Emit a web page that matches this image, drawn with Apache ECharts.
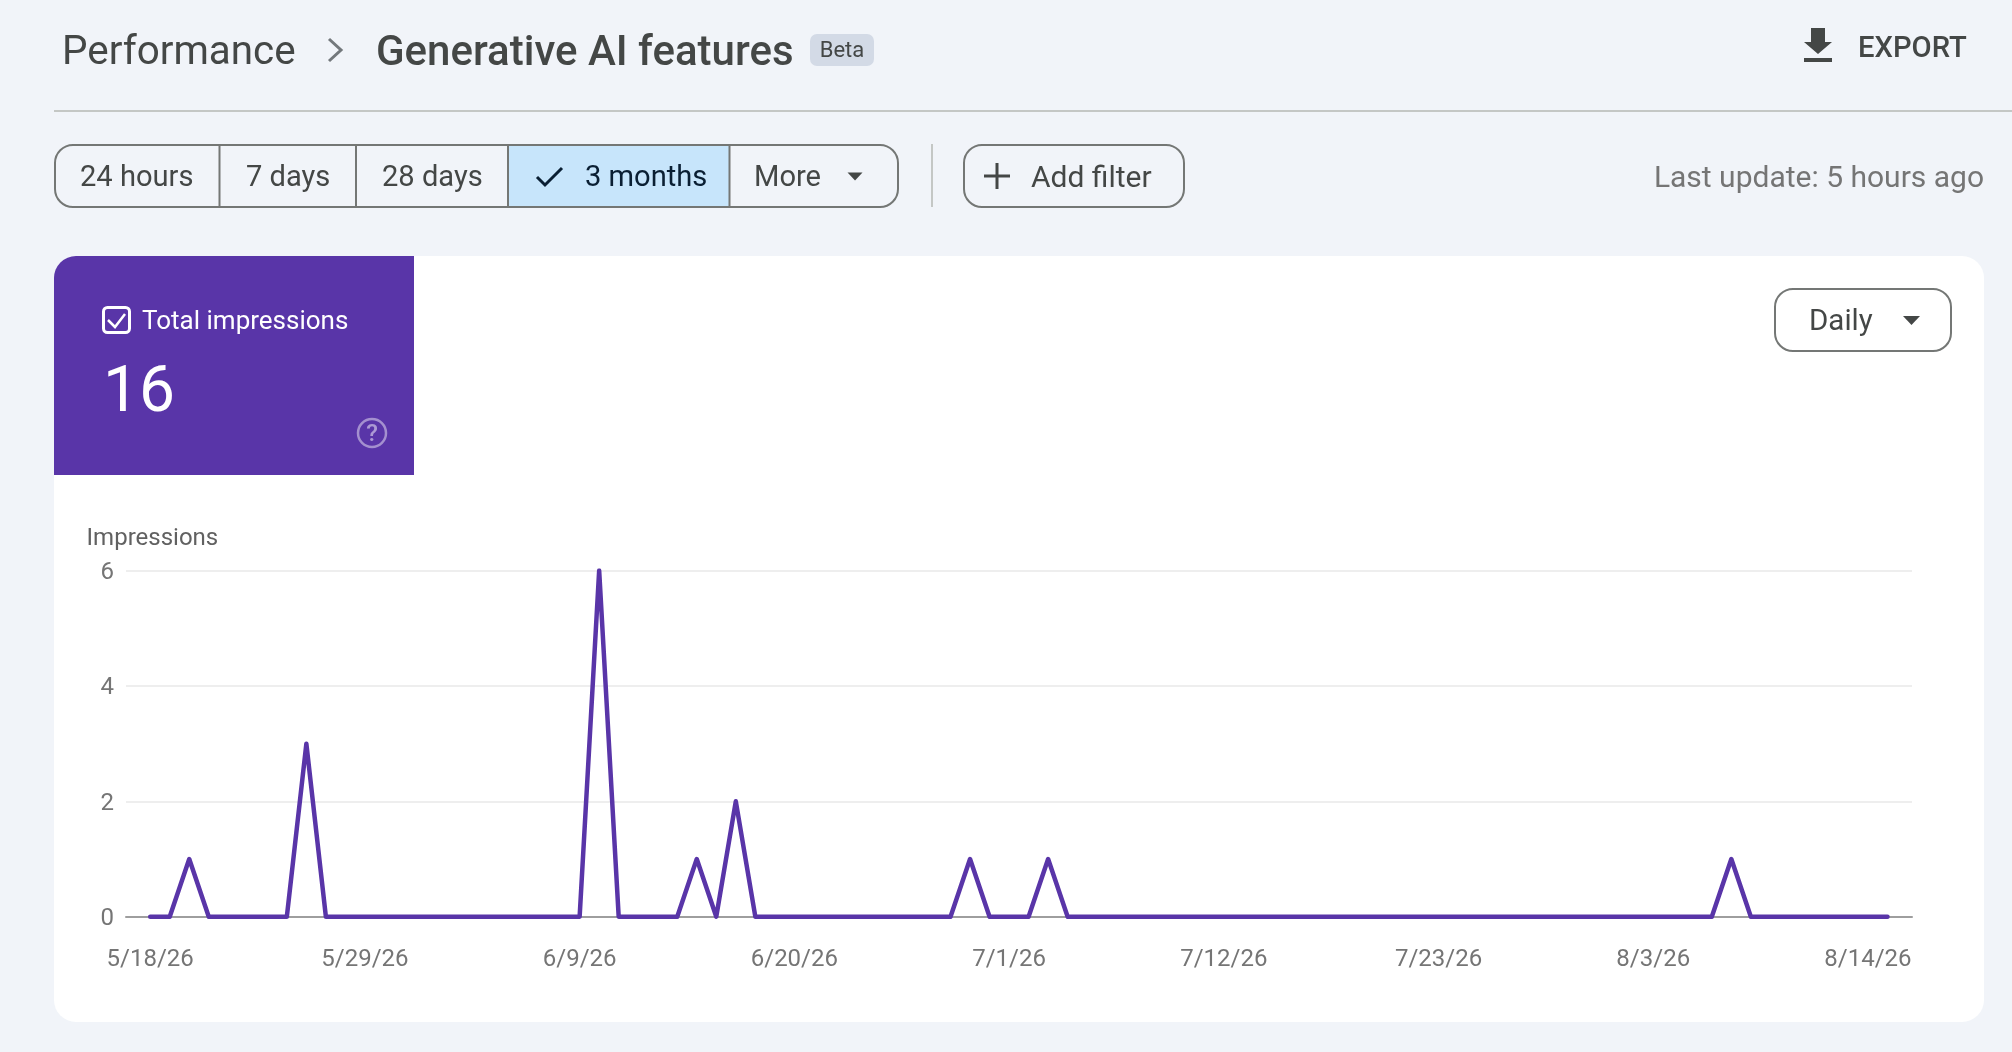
<!DOCTYPE html>
<html>
<head>
<meta charset="utf-8">
<title>Generative AI features</title>
<script src="https://cdn.jsdelivr.net/npm/echarts@6/dist/echarts.min.js"></script>
<style>
html, body { margin: 0; padding: 0; background: #f1f4f9; }
#chart { width: 2012px; height: 1052px; }
</style>
</head>
<body>
<div id="chart"></div>
<script>
// one value per day, 5/18/26 to 8/15/26
var impressions = [
  0, 0, 1, 0, 0, 0, 0, 0, 3, 0,
  0, 0, 0, 0, 0, 0, 0, 0, 0, 0,
  0, 0, 0, 6, 0, 0, 0, 0, 1, 0,
  2, 0, 0, 0, 0, 0, 0, 0, 0, 0,
  0, 0, 1, 0, 0, 0, 1, 0, 0, 0,
  0, 0, 0, 0, 0, 0, 0, 0, 0, 0,
  0, 0, 0, 0, 0, 0, 0, 0, 0, 0,
  0, 0, 0, 0, 0, 0, 0, 0, 0, 0,
  0, 1, 0, 0, 0, 0, 0, 0, 0, 0
];
var tickDays = [0, 11, 22, 33, 44, 55, 66, 77, 88];
var tickLabels = ['5/18/26', '5/29/26', '6/9/26', '6/20/26', '7/1/26', '7/12/26', '7/23/26', '8/3/26', '8/14/26'];
var rangeButtons = ['24 hours', '7 days', '28 days', '3 months', 'More'];

var FONT = 'Roboto';
var PURPLE = '#5935a8';
var DARK = '#444746';
var BORDER = '#747775';

function txt(s, x, y, size, color, extra) {
  var style = {text: s, x: x, y: y, fontFamily: FONT, fontSize: size, fill: color, verticalAlign: 'middle', align: 'left'};
  for (var k in extra) style[k] = extra[k];
  return {type: 'text', z: 5, silent: true, style: style};
}
function rect(x, y, w, h, r, fill, stroke, lw) {
  return {type: 'rect', z: 1, silent: true, shape: {x: x, y: y, width: w, height: h, r: r},
    style: {fill: fill || 'transparent', stroke: stroke || 'transparent', lineWidth: lw || 0}};
}
function line(x1, y1, x2, y2, color, lw) {
  return {type: 'line', z: 3, silent: true, shape: {x1: x1, y1: y1, x2: x2, y2: y2}, style: {stroke: color, lineWidth: lw}};
}
function poly(points, color, lw) {
  return {type: 'polyline', z: 3, silent: true, shape: {points: points}, style: {stroke: color, lineWidth: lw, fill: 'transparent'}};
}
function tri(cx, cy, w, h, color) {
  return {type: 'polygon', z: 3, silent: true, shape: {points: [[cx - w / 2, cy - h / 2], [cx + w / 2, cy - h / 2], [cx, cy + h / 2]]}, style: {fill: color}};
}

var ui = [
  // white card and the purple metric tile
  {type: 'rect', z: -5, silent: true, shape: {x: 54, y: 256, width: 1930, height: 766, r: 22}, style: {fill: '#ffffff'}},
  {type: 'rect', z: -4, silent: true, shape: {x: 54, y: 256, width: 360, height: 219, r: [22, 0, 0, 0]}, style: {fill: PURPLE}},

  // header
  txt('Performance', 62, 54, 40.4, DARK),
  poly([[329, 39], [341, 50], [329, 61]], '#73787c', 3),
  txt('Generative AI features', 376, 54, 42, DARK, {fontWeight: 500}),
  rect(810, 34, 64, 32, 7, '#d3dae6'),
  txt('Beta', 842, 51, 22, DARK, {align: 'center'}),
  {type: 'polygon', z: 3, silent: true, shape: {points: [[1811, 28], [1825, 28], [1825, 42], [1832, 42], [1818, 54], [1804, 42], [1811, 42]]}, style: {fill: DARK}},
  rect(1804, 58, 28, 4, 0, DARK),
  txt('EXPORT', 1858, 49.5, 29.2, DARK, {fontWeight: 500}),
  line(54, 111, 2012, 111, '#c4c7c5', 2),

  // range buttons
  rect(509, 145, 220, 62, 0, '#c7e5fb'),
  rect(55, 145, 843, 62, 18, null, BORDER, 2),
  line(219.5, 145, 219.5, 207, BORDER, 2),
  line(356, 145, 356, 207, BORDER, 2),
  line(508, 145, 508, 207, BORDER, 2),
  line(729.5, 145, 729.5, 207, BORDER, 2),
  txt(rangeButtons[0], 80, 179, 29.1, DARK),
  txt(rangeButtons[1], 246, 179, 29.1, DARK),
  txt(rangeButtons[2], 382, 179, 29.1, DARK),
  poly([[537, 177], [545, 185], [562, 168]], '#0a1f33', 3),
  txt(rangeButtons[3], 585, 179, 29.1, '#0a1f33'),
  txt(rangeButtons[4], 754, 179, 29.1, DARK),
  tri(855, 176.5, 15, 8, DARK),
  line(932, 144, 932, 207, '#c4c7c5', 2),

  // add filter
  rect(964, 145, 220, 62, 18, null, BORDER, 2),
  line(984, 176, 1010, 176, DARK, 3),
  line(997, 163, 997, 189, DARK, 3),
  txt('Add filter', 1031, 179, 30, DARK),
  txt('Last update: 5 hours ago', 1984, 179, 30, '#757575', {align: 'right'}),

  // granularity select
  rect(1775, 289, 176, 62, 18, null, BORDER, 2),
  txt('Daily', 1809, 323, 29.5, DARK),
  tri(1911.5, 320.5, 17, 9, DARK),

  // metric tile contents
  rect(103.5, 307.5, 26, 25, 4, null, '#ffffff', 3),
  poly([[108, 320], [115, 327], [125, 314]], '#ffffff', 2.5),
  txt('Total impressions', 142, 322.5, 26, '#ffffff'),
  txt('16', 103, 395, 64, '#ffffff'),
  {type: 'circle', z: 3, silent: true, shape: {cx: 372, cy: 433, r: 14}, style: {fill: 'transparent', stroke: 'rgba(255,255,255,0.45)', lineWidth: 2.5}},
  txt('?', 372, 434.5, 24, 'rgba(255,255,255,0.5)', {align: 'center', fontWeight: 500})
];

var myChart = echarts.init(document.getElementById('chart'));
var option = {
  animation: false,
  backgroundColor: '#f1f4f9',
  graphic: {elements: ui},
  grid: {left: 126, top: 570.6, width: 1786, height: 346.1},
  xAxis: {
    type: 'value',
    min: -1.24,
    max: 90.256,
    splitLine: {show: false},
    axisTick: {show: false},
    axisLine: {show: true, onZero: true, lineStyle: {color: '#9e9e9e', width: 2}},
    axisLabel: {
      customValues: tickDays,
      formatter: function (v) { return tickLabels[tickDays.indexOf(v)]; },
      margin: 31,
      color: '#757575',
      fontFamily: FONT,
      fontSize: 24,
      showMinLabel: true,
      showMaxLabel: true
    }
  },
  yAxis: {
    type: 'value',
    min: 0,
    max: 6,
    interval: 2,
    name: 'Impressions',
    nameLocation: 'end',
    nameGap: 32,
    nameTextStyle: {color: '#616161', fontFamily: FONT, fontSize: 24, align: 'right', verticalAlign: 'middle', padding: [0, -68, 0, 0]},
    axisLine: {show: false},
    axisTick: {show: false},
    axisLabel: {margin: 12, color: '#757575', fontFamily: FONT, fontSize: 24, verticalAlign: 'top', lineHeight: 5},
    splitLine: {show: true, lineStyle: {color: '#eeeeee', width: 2}}
  },
  series: [{
    name: 'Impressions',
    type: 'line',
    showSymbol: false,
    symbol: 'none',
    silent: true,
    data: impressions.map(function (v, i) { return [i, v]; }),
    lineStyle: {color: PURPLE, width: 4.5, cap: 'round', join: 'round'}
  }]
};
myChart.setOption(option);
</script>
</body>
</html>
